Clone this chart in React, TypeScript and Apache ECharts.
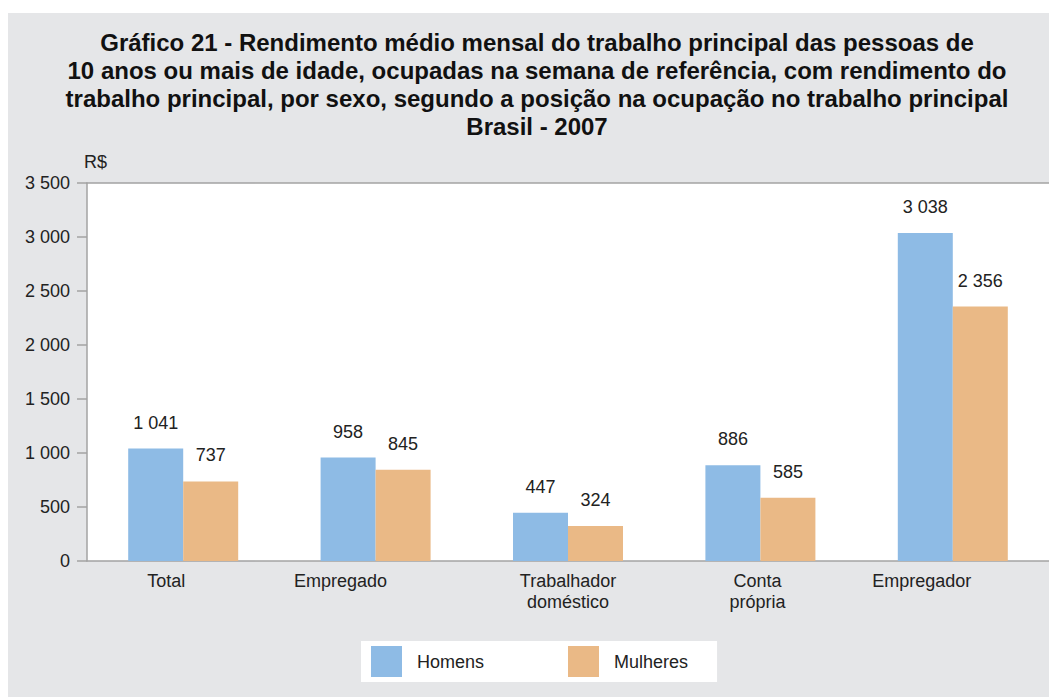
import React, { useEffect, useRef } from "react";
import * as echarts from "echarts";

const categories = ["Total", "Empregado", "Trabalhador\ndoméstico", "Conta\nprópria", "Empregador"];
const homens = [1041, 958, 447, 886, 3038];
const mulheres = [737, 845, 324, 585, 2356];
const seriesNames = ["Homens", "Mulheres"];
const yTicks = { min: 0, max: 3500, interval: 500 };
const titleText =
  "Gráfico 21 - Rendimento médio mensal do trabalho principal das pessoas de\n10 anos ou mais de idade, ocupadas na semana de referência, com rendimento do\ntrabalho principal, por sexo, segundo a posição na ocupação no trabalho principal\nBrasil - 2007";
const unitLabel = "R$";
// right-padding of each category label (the source shifts some labels leftwards)
const labelShift = [34, 70, 0, 6, 62];

const fmt = (v: number) => String(Math.round(v)).replace(/\B(?=(\d{3})+(?!\d))/g, " ");

const FONT = "'Liberation Sans', Arial, sans-serif";
const TXT = "#222222";
const AXIS = "#a3a3a3";

export default function App() {
  const ref = useRef<HTMLDivElement>(null);
  useEffect(() => {
    document.body.style.margin = "0";
    const chart = echarts.init(ref.current!, null, { renderer: "svg" });
    chart.setOption({
      animation: false,
      backgroundColor: "#e5e6e8",
      textStyle: { fontFamily: FONT },
      title: {
        text: titleText,
        left: 524,
        top: 10,
        textAlign: "center",
        textStyle: { fontFamily: FONT, fontSize: 24, fontWeight: "bold", color: "#111", lineHeight: 28 },
      },
      graphic: [
        {
          type: "text",
          left: 76,
          top: 140,
          style: { text: unitLabel, font: `18px ${FONT}`, fill: TXT },
        },
      ],
      grid: {
        left: 79,
        right: 0,
        top: 170,
        bottom: 136,
        show: true,
        backgroundColor: "#ffffff",
        borderWidth: 0,
      },
      legend: {
        left: 353,
        top: 628,
        backgroundColor: "#ffffff",
        padding: [5, 29, 5, 10],
        itemWidth: 31,
        itemHeight: 31,
        itemGap: 84,
        icon: "rect",
        data: seriesNames,
        textStyle: { fontFamily: FONT, fontSize: 18, color: TXT, padding: [0, 0, 0, 10] },
      },
      xAxis: [
        {
          type: "category",
          data: categories.map((c, i) => ({
            value: c,
            textStyle: { padding: [0, labelShift[i], 0, 0] },
          })),
          axisLine: { lineStyle: { color: AXIS, width: 1.5 } },
          axisTick: { length: 6, lineStyle: { color: AXIS, width: 1.5 } },
          axisLabel: { color: TXT, fontSize: 18, fontFamily: FONT, margin: 9, lineHeight: 21, interval: 0 },
        },
        {
          type: "category",
          position: "top",
          data: categories,
          axisLine: { lineStyle: { color: AXIS, width: 1.5 } },
          axisTick: { show: false },
          axisLabel: { show: false },
        },
      ],
      yAxis: {
        type: "value",
        min: yTicks.min,
        max: yTicks.max,
        interval: yTicks.interval,
        axisLine: { show: true, lineStyle: { color: AXIS, width: 1.5 } },
        axisTick: { show: true, length: 10, lineStyle: { color: AXIS, width: 1.5 } },
        splitLine: { show: false },
        axisLabel: { color: TXT, fontSize: 18, fontFamily: FONT, margin: 17, formatter: (v: number) => fmt(v) },
      },
      series: [
        {
          name: seriesNames[0],
          type: "bar",
          data: homens,
          barWidth: 55,
          barGap: "0%",
          itemStyle: { color: "#8ebbe5" },
          label: {
            show: true,
            position: "top",
            distance: 17,
            color: TXT,
            fontSize: 18,
            fontFamily: FONT,
            formatter: (p: any) => fmt(p.value),
          },
        },
        {
          name: seriesNames[1],
          type: "bar",
          data: mulheres,
          barWidth: 55,
          barGap: "0%",
          itemStyle: { color: "#eab986" },
          label: {
            show: true,
            position: "top",
            distance: 17,
            color: TXT,
            fontSize: 18,
            fontFamily: FONT,
            formatter: (p: any) => fmt(p.value),
          },
        },
      ],
    });
    return () => chart.dispose();
  }, []);
  return (
    <div style={{ paddingTop: 13, paddingLeft: 8 }}>
      <div ref={ref} style={{ width: 1041, height: 684 }} />
    </div>
  );
}
